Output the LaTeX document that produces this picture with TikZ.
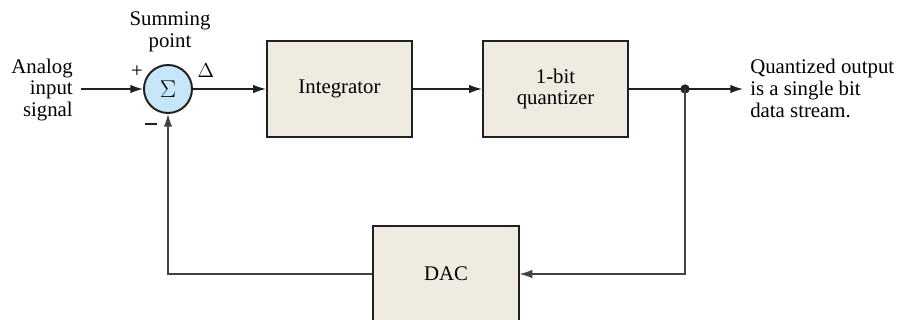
\documentclass[tikz,border=0pt]{standalone}
\usepackage{fontspec}
\setmainfont{Liberation Serif}
\usepackage{amsmath}
\usepackage{xcolor}
\usetikzlibrary{arrows.meta,positioning,calc}
\definecolor{ink}{HTML}{231F20}
\definecolor{softbeige}{HTML}{EFEBE1}
\definecolor{softcyan}{HTML}{C6E7F7}

\begin{document}
\begin{tikzpicture}[
  x=0.025cm, y=-0.025cm,
  font=\fontsize{14.8}{15.6}\selectfont,
  block/.style={draw=ink, line width=1.4pt, fill=softbeige, minimum width=3.63cm, minimum height=2.4cm, align=center, inner sep=0pt},
  summer/.style={circle, draw=ink, line width=1.4pt, fill=softcyan, minimum size=1.2cm, inner sep=0pt},
  arrow/.style={-{Latex[length=9pt,width=6pt]}, line width=0.9pt, draw=ink},
  caption/.style={align=center, inner sep=0pt},
  sign/.style={inner sep=0pt}
]
\useasboundingbox (0,0) rectangle (906,320);

\node[summer, font=\fontsize{16}{17}\selectfont] (sum) at (168,89) {$\Sigma$};
\node[block] (integ) at (339.5,89) {Integrator};
\node[block] (quant) at (555.5,89) {1-bit\\quantizer};
\node[block] (dac) at (446,274) {DAC};
\fill[ink] (685,89) circle (3.3pt) coordinate (tap);
\coordinate (inp) at (81,89);
\coordinate (outp) at (743,89);

\node[caption, align=right, anchor=east] (ain) at (73,90) {Analog\\input\\signal};
\node[caption] (sp) at (170,32) {Summing\\point};
\node[caption, align=left, anchor=west] (qout) at (750,88) {Quantized output\\is a single bit\\data stream.};
\node[sign] (plus) at (137,72) {+};
\node[sign] (delta) at (206,71) {$\Delta$};
\draw[line width=2pt, draw=ink] (145,124) -- (157,124) node[sign, midway] (minus) {};

\draw[arrow] (inp) -- (sum);
\draw[arrow] (sum) -- (integ);
\draw[arrow] (integ) -- (quant);
\draw[arrow, -] (quant) -- (tap);
\draw[arrow] (tap) -- (outp);
\draw[arrow, draw=ink!85] (tap) |- (dac);
\draw[arrow, draw=ink!85] (dac.west) -| (sum.south);

\end{tikzpicture}
\end{document}
